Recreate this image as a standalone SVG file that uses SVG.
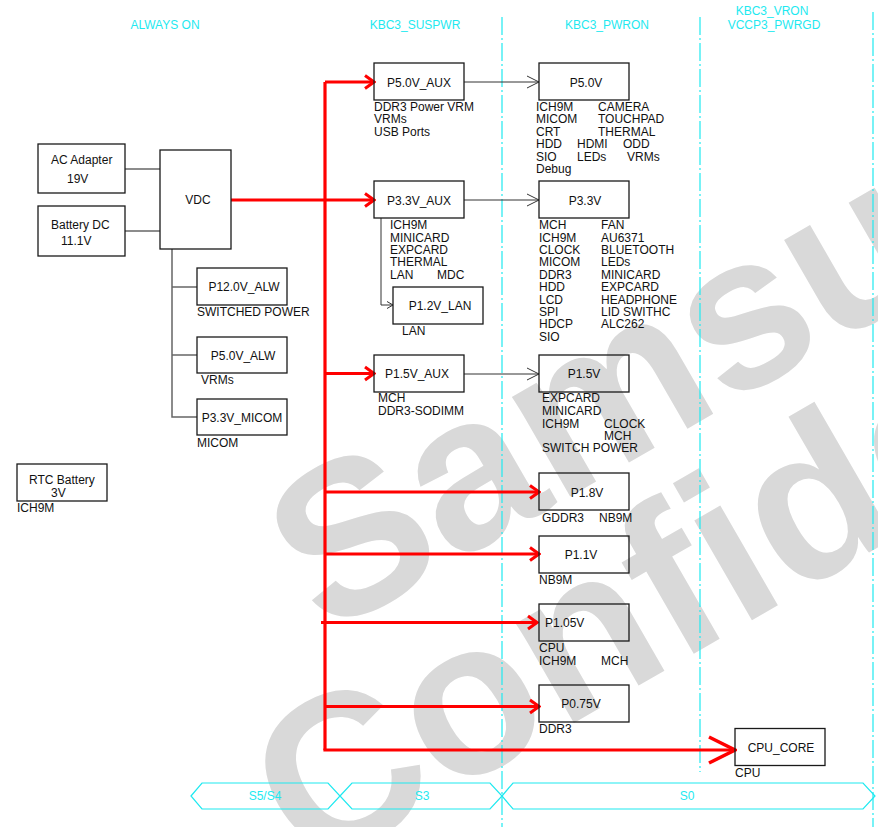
<svg xmlns="http://www.w3.org/2000/svg" width="878" height="827" viewBox="0 0 878 827">
<style>
.t{font-family:"Liberation Sans",Arial,sans-serif;font-size:12px;fill:#111}
.c{text-anchor:middle}
.h{font-family:"Liberation Sans",Arial,sans-serif;font-size:12px;fill:#1ee9f0;text-anchor:middle}
.b{fill:none;stroke:#1a1a1a;stroke-width:1.3}
.g{fill:none;stroke:#666;stroke-width:1.5}
.k{fill:none;stroke:#333;stroke-width:1}
.r{fill:none;stroke:#ff0000;stroke-width:3.2}
.d{fill:none;stroke:#1ee9f0;stroke-width:1.2;stroke-dasharray:18 3 2 3}
.x{fill:none;stroke:#1ee9f0;stroke-width:1.2}
.w{font-family:"Liberation Sans",Arial,sans-serif;font-weight:bold;font-size:218px;fill:#d9d9d9;text-anchor:middle}
</style>
<defs>
<marker id="ra" viewBox="-12 -9 14 18" refX="0" refY="0" markerWidth="14" markerHeight="18" markerUnits="userSpaceOnUse" orient="auto"><path d="M-9,-6.5 L0,0 L-9,6.5" fill="none" stroke="#ff0000" stroke-width="3"/></marker>
<marker id="rb" viewBox="-30 -16 32 32" refX="0" refY="0" markerWidth="32" markerHeight="32" markerUnits="userSpaceOnUse" orient="auto"><path d="M-26,-13 L0,0 L-26,13" fill="none" stroke="#ff0000" stroke-width="3.5"/></marker>
<marker id="ka" viewBox="-14 -8 16 16" refX="0" refY="0" markerWidth="16" markerHeight="16" markerUnits="userSpaceOnUse" orient="auto"><path d="M-12,-6 L0,0 L-12,6" fill="none" stroke="#333" stroke-width="1"/></marker>
<marker id="kb" viewBox="-8 -5 10 10" refX="0" refY="0" markerWidth="10" markerHeight="10" markerUnits="userSpaceOnUse" orient="auto"><path d="M-6,-3.5 L0,0 L-6,3.5" fill="none" stroke="#333" stroke-width="1"/></marker>
</defs>
<rect width="878" height="827" fill="#fff"/>

<g id="watermark" transform="translate(751,392) rotate(-30)">
<text class="w" x="0" y="0">Samsung</text>
<text class="w" x="5" y="198">Confidential</text>
</g>

<g id="lanes">
<line class="d" x1="502" y1="17" x2="502" y2="827"/>
<line class="d" x1="700" y1="17" x2="700" y2="772"/>
<line class="d" x1="873" y1="12" x2="873" y2="827"/>
<text class="h" x="165" y="29">ALWAYS ON</text>
<text class="h" x="415" y="29">KBC3_SUSPWR</text>
<text class="h" x="607" y="29">KBC3_PWRON</text>
<text class="h" x="772" y="15">KBC3_VRON</text>
<text class="h" x="774" y="29">VCCP3_PWRGD</text>
</g>

<g id="states">
<polygon class="x" points="191,796 202,783 328,783 340,796 328,809 202,809"/>
<polygon class="x" points="340,796 352,783 490,783 502,796 490,809 352,809"/>
<polygon class="x" points="502,796 513,783 863,783 875,796 863,809 513,809"/>
<text class="h" x="265" y="800">S5/S4</text>
<text class="h" x="422" y="800">S3</text>
<text class="h" x="687" y="800">S0</text>
</g>

<g id="connectors">
<line class="g" x1="125" y1="169" x2="160" y2="169"/>
<line class="g" x1="125" y1="231" x2="160" y2="231"/>
<polyline class="g" points="172,249 172,417 197,417"/>
<line class="g" x1="172" y1="287" x2="197" y2="287"/>
<line class="g" x1="172" y1="355" x2="197" y2="355"/>
<line class="k" x1="464" y1="82" x2="539" y2="82" marker-end="url(#ka)"/>
<line class="k" x1="464" y1="200" x2="539" y2="200" marker-end="url(#ka)"/>
<line class="k" x1="464" y1="374" x2="539" y2="374" marker-end="url(#ka)"/>
<polyline class="k" points="381,218 381,305 393,305" marker-end="url(#kb)"/>
<line class="r" x1="325" y1="82" x2="325" y2="750"/>
<line class="r" x1="325" y1="82" x2="374" y2="82" marker-end="url(#ra)"/>
<line class="r" x1="231" y1="200" x2="374" y2="200" marker-end="url(#ra)"/>
<line class="r" x1="325" y1="373.5" x2="374" y2="373.5" marker-end="url(#ra)"/>
<line class="r" x1="325" y1="492" x2="539" y2="492" marker-end="url(#ra)"/>
<line class="r" x1="325" y1="554" x2="539" y2="554" marker-end="url(#ra)"/>
<line class="r" x1="321" y1="622.5" x2="537" y2="622.5" marker-end="url(#ra)"/>
<line class="r" x1="325" y1="706.5" x2="539" y2="706.5" marker-end="url(#ra)"/>
<line class="r" x1="323.4" y1="750" x2="735" y2="750" marker-end="url(#rb)"/>
</g>

<g id="ac-adapter">
<rect class="b" x="38" y="144" width="87" height="49"/>
<text class="t" x="51" y="164">AC Adapter</text>
<text class="t" x="67" y="183">19V</text>
</g>
<g id="battery-dc">
<rect class="b" x="38" y="206" width="87" height="50"/>
<text class="t" x="51" y="229">Battery DC</text>
<text class="t" x="61" y="245">11.1V</text>
</g>
<g id="vdc">
<rect class="b" x="160" y="150" width="71" height="99"/>
<text class="t c" x="198" y="204">VDC</text>
</g>
<g id="p12-alw">
<rect class="b" x="197" y="268" width="90" height="37"/>
<text class="t c" x="244" y="291">P12.0V_ALW</text>
<text class="t" x="197" y="316">SWITCHED POWER</text>
</g>
<g id="p5-alw">
<rect class="b" x="197" y="337" width="90" height="36"/>
<text class="t c" x="243" y="359.5">P5.0V_ALW</text>
<text class="t" x="201" y="384">VRMs</text>
</g>
<g id="p33-micom">
<rect class="b" x="197" y="399" width="90" height="36"/>
<text class="t c" x="242" y="421.5">P3.3V_MICOM</text>
<text class="t" x="197" y="446.5">MICOM</text>
</g>
<g id="rtc-battery">
<rect class="b" x="17" y="464" width="90" height="37"/>
<text class="t" x="29" y="484">RTC Battery</text>
<text class="t" x="51" y="496.5">3V</text>
<text class="t" x="17" y="511.5">ICH9M</text>
</g>

<g id="p5-aux">
<rect class="b" x="374" y="63" width="90" height="37"/>
<text class="t c" x="419" y="86.5">P5.0V_AUX</text>
<text class="t" x="374" y="111">DDR3 Power VRM</text>
<text class="t" x="374" y="123.3">VRMs</text>
<text class="t" x="374" y="135.7">USB Ports</text>
</g>
<g id="p5">
<rect class="b" x="539" y="63" width="90" height="37"/>
<text class="t c" x="586" y="86.5">P5.0V</text>
<text class="t" x="536" y="111">ICH9M</text><text class="t" x="598" y="111">CAMERA</text>
<text class="t" x="536" y="123.3">MICOM</text><text class="t" x="598" y="123.3">TOUCHPAD</text>
<text class="t" x="536" y="135.7">CRT</text><text class="t" x="598" y="135.7">THERMAL</text>
<text class="t" x="536" y="148.3">HDD</text><text class="t" x="577" y="148.3">HDMI</text><text class="t" x="623" y="148.3">ODD</text>
<text class="t" x="536" y="160.7">SIO</text><text class="t" x="577" y="160.7">LEDs</text><text class="t" x="627" y="160.7">VRMs</text>
<text class="t" x="536" y="173.3">Debug</text>
</g>
<g id="p33-aux">
<rect class="b" x="374" y="181" width="90" height="37"/>
<text class="t c" x="419" y="204.5">P3.3V_AUX</text>
<text class="t" x="390" y="229">ICH9M</text>
<text class="t" x="390" y="241.5">MINICARD</text>
<text class="t" x="390" y="254">EXPCARD</text>
<text class="t" x="390" y="266">THERMAL</text>
<text class="t" x="390" y="278.5">LAN</text><text class="t" x="437" y="278.5">MDC</text>
</g>
<g id="p12-lan">
<rect class="b" x="393" y="287" width="90" height="37"/>
<text class="t c" x="440" y="310">P1.2V_LAN</text>
<text class="t" x="402" y="334.5">LAN</text>
</g>
<g id="p33">
<rect class="b" x="539" y="181" width="90" height="37"/>
<text class="t c" x="585" y="204.5">P3.3V</text>
<text class="t" x="539" y="229">MCH</text><text class="t" x="601" y="229">FAN</text>
<text class="t" x="539" y="241.5">ICH9M</text><text class="t" x="601" y="241.5">AU6371</text>
<text class="t" x="539" y="254">CLOCK</text><text class="t" x="601" y="254">BLUETOOTH</text>
<text class="t" x="539" y="266.3">MICOM</text><text class="t" x="601" y="266.3">LEDs</text>
<text class="t" x="539" y="278.7">DDR3</text><text class="t" x="601" y="278.7">MINICARD</text>
<text class="t" x="539" y="291">HDD</text><text class="t" x="601" y="291">EXPCARD</text>
<text class="t" x="539" y="303.5">LCD</text><text class="t" x="601" y="303.5">HEADPHONE</text>
<text class="t" x="539" y="315.8">SPI</text><text class="t" x="601" y="315.8">LID SWITHC</text>
<text class="t" x="539" y="328">HDCP</text><text class="t" x="601" y="328">ALC262</text>
<text class="t" x="539" y="340.5">SIO</text>
</g>
<g id="p15-aux">
<rect class="b" x="374" y="355" width="90" height="37"/>
<text class="t c" x="417" y="378">P1.5V_AUX</text>
<text class="t" x="378" y="402.3">MCH</text>
<text class="t" x="378" y="415.3">DDR3-SODIMM</text>
</g>
<g id="p15">
<rect class="b" x="539" y="355" width="90" height="37"/>
<text class="t c" x="584" y="378">P1.5V</text>
<text class="t" x="542" y="402.3">EXPCARD</text>
<text class="t" x="542" y="415">MINICARD</text>
<text class="t" x="542" y="427.5">ICH9M</text><text class="t" x="604" y="427.5">CLOCK</text>
<text class="t" x="604" y="439.5">MCH</text>
<text class="t" x="542" y="452.3">SWITCH POWER</text>
</g>
<g id="p18">
<rect class="b" x="539" y="473" width="90" height="37"/>
<text class="t c" x="587" y="496.5">P1.8V</text>
<text class="t" x="542" y="522">GDDR3</text><text class="t" x="599" y="522">NB9M</text>
</g>
<g id="p11">
<rect class="b" x="539" y="536" width="90" height="37"/>
<text class="t c" x="581" y="558.5">P1.1V</text>
<text class="t" x="539" y="584">NB9M</text>
</g>
<g id="p105">
<rect class="b" x="539" y="604" width="90" height="37"/>
<text class="t" x="545" y="627">P1.05V</text>
<text class="t" x="539" y="651.5">CPU</text>
<text class="t" x="539" y="665">ICH9M</text><text class="t" x="601" y="665">MCH</text>
</g>
<g id="p075">
<rect class="b" x="539" y="685" width="90" height="37"/>
<text class="t c" x="581" y="707.5">P0.75V</text>
<text class="t" x="539" y="732.5">DDR3</text>
</g>
<g id="cpu-core">
<rect class="b" x="735" y="728.5" width="90" height="37"/>
<text class="t c" x="781" y="751.5">CPU_CORE</text>
<text class="t" x="735" y="776.5">CPU</text>
</g>
</svg>
